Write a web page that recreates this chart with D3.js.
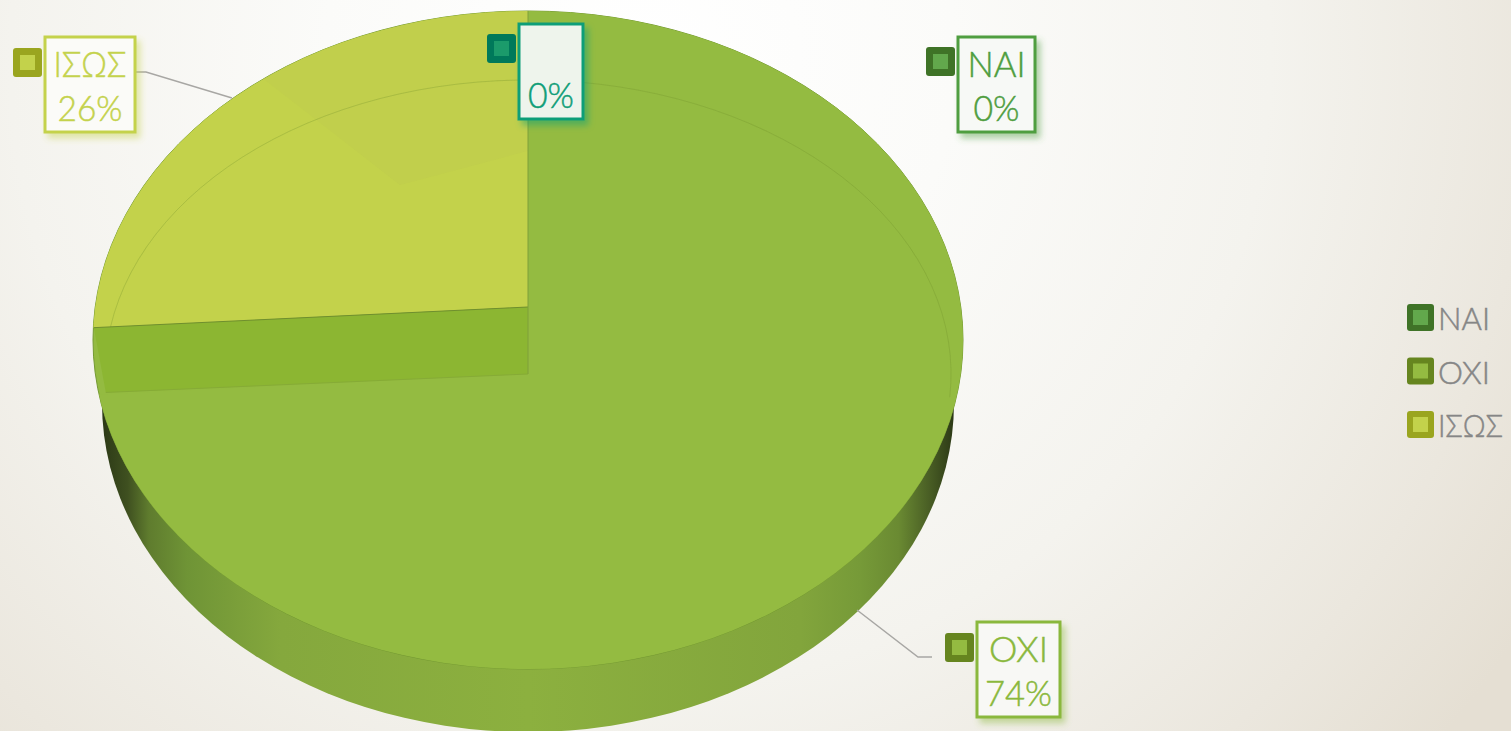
<!DOCTYPE html>
<html>
<head>
<meta charset="utf-8">
<script src="https://cdn.jsdelivr.net/npm/d3@7"></script>
<style>
  html, body { margin: 0; padding: 0; overflow: hidden; }
  svg { display: block; }
  text { font-family: Lato, "Open Sans", sans-serif; font-weight: 300; }
</style>
</head>
<body>
<div id="chart"></div>
<script>
'use strict';

var categories = ['NAI', 'OXI', 'ΙΣΩΣ', ''];
var values = [0, 74, 26, 0];
var legendCategories = ['NAI', 'OXI', 'ΙΣΩΣ'];

var faceColors = ['#62a84c', '#94bb41', '#c3d24b', '#1b9b6b'];
var keyColors = ['#3f7327', '#66851f', '#9aa51f', '#00795a'];
var labelColors = ['#4f9e3f', '#8ab83c', '#c4d24c', '#0f9e78'];
var boxFills = ['#f7f9f6', '#f8f8f5', '#fbfbf8', '#eef4ec'];

var width = 1511, height = 731;
var cx = 528, rx = 435, ry = 329;
var rimY = 340, wallY = 403, wallRx = 426, upperApexY = 307, lowerApexY = 374;
var innerRx = 423, innerRy = 294;

var svg = d3.select('#chart').append('svg').attr('width', width).attr('height', height);
var defs = svg.append('defs');

var bg = defs.append('radialGradient').attr('id', 'bg')
  .attr('gradientUnits', 'userSpaceOnUse')
  .attr('cx', 640).attr('cy', 60).attr('r', 1050);
[[0, '#ffffff'], [0.3, '#fbfbf9'], [0.6, '#f4f3ee'], [0.85, '#ebe7de'], [1, '#e5dfd3']].forEach(function(s) {
  bg.append('stop').attr('offset', s[0]).attr('stop-color', s[1]);
});

var wallGrad = defs.append('linearGradient').attr('id', 'wall')
  .attr('gradientUnits', 'userSpaceOnUse')
  .attr('x1', 102).attr('x2', 954).attr('y1', 0).attr('y2', 0);
[[0, '#2c3916'], [0.03, '#3f5020'], [0.055, '#5f7c2e'], [0.1, '#6f9436'], [0.21, '#85a83d'], [0.5, '#8cb03f'],
 [0.82, '#82a53c'], [0.89, '#769a38'], [0.935, '#6a8a32'], [0.97, '#4a5f25'], [1, '#2c3916']].forEach(function(s) {
  wallGrad.append('stop').attr('offset', s[0]).attr('stop-color', s[1]);
});

defs.append('clipPath').attr('id', 'rimClip').append('ellipse')
  .attr('cx', cx).attr('cy', rimY).attr('rx', rx).attr('ry', ry);

labelColors.forEach(function(c, i) {
  defs.append('filter').attr('id', 'shadow' + i)
    .attr('x', '-20%').attr('y', '-20%').attr('width', '150%').attr('height', '150%')
    .append('feDropShadow').attr('dx', 4).attr('dy', 5).attr('stdDeviation', 3)
    .attr('flood-color', c).attr('flood-opacity', 0.45);
});

svg.append('rect').attr('width', width).attr('height', height).attr('fill', 'url(#bg)');

// pie body
svg.append('ellipse').attr('cx', cx).attr('cy', wallY).attr('rx', wallRx).attr('ry', ry)
  .attr('fill', 'url(#wall)');
svg.append('ellipse').attr('cx', cx).attr('cy', rimY).attr('rx', rx).attr('ry', ry)
  .attr('fill', faceColors[1]).attr('stroke', '#759a33').attr('stroke-width', 1);

var slices = d3.pie().sort(null)(values);
var arc = d3.arc().innerRadius(0).outerRadius(1);
var project = function(angle, rX, rY, y0) {
  return [cx + rX * Math.sin(angle), y0 - rY * Math.cos(angle)];
};

var faces = svg.append('g').attr('clip-path', 'url(#rimClip)');
var apexY = [lowerApexY, lowerApexY, upperApexY, upperApexY];
faces.selectAll('path.slice').data(slices).enter().append('path')
  .attr('class', 'slice')
  .attr('d', arc)
  .attr('transform', function(d, i) {
    return 'translate(' + cx + ',' + apexY[i] + ') scale(' + rx * 1.3 + ',' + ry * 1.3 + ')';
  })
  .attr('fill', function(d, i) { return faceColors[i]; });

// faint darker patch in the upper part of the ΙΣΩΣ slice
var isos = slices[2];
defs.append('clipPath').attr('id', 'isosClip').append('path')
  .attr('d', arc(isos))
  .attr('transform', 'translate(' + cx + ',' + upperApexY + ') scale(' + rx * 1.3 + ',' + ry * 1.3 + ')');
faces.append('g').attr('clip-path', 'url(#isosClip)').append('path')
  .attr('d', d3.arc().innerRadius(0).outerRadius(400).startAngle(-0.91).endAngle(1.31)())
  .attr('transform', 'translate(400,185)')
  .attr('fill', '#b8c24e').attr('opacity', 0.2);

// inner wall of the cut between the two slices
var cutAngle = isos.startAngle;
var wallPts = [
  [cx, upperApexY],
  project(cutAngle, rx, ry, upperApexY),
  project(cutAngle, innerRx, innerRy, lowerApexY),
  [cx, lowerApexY]
];
svg.append('path').attr('d', d3.line()(wallPts) + 'Z').attr('fill', '#8cb632');
svg.append('path').attr('d', d3.line()(wallPts.slice(0, 2)))
  .attr('fill', 'none').attr('stroke', '#6f8f2e').attr('stroke-width', 1);
svg.append('path').attr('d', d3.line()(wallPts.slice(2)))
  .attr('fill', 'none').attr('stroke', '#86ab36').attr('stroke-width', 1);
svg.append('line').attr('x1', cx).attr('x2', cx).attr('y1', rimY - ry).attr('y2', lowerApexY)
  .attr('stroke', '#7ea03a').attr('stroke-width', 1);

// thin inner rim line
var innerArc = d3.arc().innerRadius(1).outerRadius(1)
  .startAngle(-1.41).endAngle(1.65);
svg.append('path').attr('d', innerArc())
  .attr('transform', 'translate(' + cx + ',' + lowerApexY + ') scale(' + innerRx + ',' + innerRy + ')')
  .attr('fill', 'none').attr('stroke', '#6f8f2e').attr('stroke-opacity', 0.16)
  .attr('stroke-width', 1).attr('vector-effect', 'non-scaling-stroke');

// leader lines
var leaders = [
  [[857, 610], [918, 657], [932, 657]],
  [[135, 72], [146, 72], [232, 98]]
];
svg.selectAll('path.leader').data(leaders).enter().append('path')
  .attr('class', 'leader')
  .attr('d', d3.line())
  .attr('fill', 'none').attr('stroke', '#a8a7a4').attr('stroke-width', 1.5);

// data labels
var labelBoxes = [
  { x: 958, y: 37, w: 77, h: 95, kx: 926, ky: 47, nameW: 58, pctW: 46 },
  { x: 977, y: 622, w: 83, h: 95, kx: 945, ky: 633, nameW: 59, pctW: 67 },
  { x: 45, y: 37, w: 90, h: 95, kx: 13, ky: 48, nameW: 73, pctW: 65 },
  { x: 519, y: 24, w: 64, h: 95, kx: 487, ky: 34, nameW: null, pctW: 46 }
];
var total = d3.sum(values);
var label = svg.selectAll('g.label').data(labelBoxes).enter().append('g').attr('class', 'label');
label.append('rect')
  .attr('x', function(d) { return d.x; }).attr('y', function(d) { return d.y; })
  .attr('width', function(d) { return d.w; }).attr('height', function(d) { return d.h; })
  .attr('fill', function(d, i) { return boxFills[i]; })
  .attr('stroke', function(d, i) { return labelColors[i]; })
  .attr('stroke-width', 3)
  .attr('filter', function(d, i) { return 'url(#shadow' + i + ')'; });
label.append('rect')
  .attr('x', function(d) { return d.kx; }).attr('y', function(d) { return d.ky; })
  .attr('width', 29).attr('height', 29).attr('rx', 3)
  .attr('fill', function(d, i) { return keyColors[i]; });
label.append('rect')
  .attr('x', function(d) { return d.kx + 7; }).attr('y', function(d) { return d.ky + 7; })
  .attr('width', 15).attr('height', 15)
  .attr('fill', function(d, i) { return faceColors[i]; });
label.append('text')
  .attr('x', function(d) { return d.x + d.w / 2; }).attr('y', function(d) { return d.y + 40; })
  .attr('text-anchor', 'middle').attr('font-size', 36)
  .attr('textLength', function(d) { return d.nameW; }).attr('lengthAdjust', 'spacingAndGlyphs')
  .attr('fill', function(d, i) { return labelColors[i]; })
  .attr('stroke', function(d, i) { return labelColors[i]; }).attr('stroke-width', 0.5)
  .text(function(d, i) { return categories[i]; });
label.append('text')
  .attr('x', function(d) { return d.x + d.w / 2; }).attr('y', function(d) { return d.y + 84; })
  .attr('text-anchor', 'middle').attr('font-size', 36)
  .attr('textLength', function(d) { return d.pctW; }).attr('lengthAdjust', 'spacingAndGlyphs')
  .attr('fill', function(d, i) { return labelColors[i]; })
  .attr('stroke', function(d, i) { return labelColors[i]; }).attr('stroke-width', 0.5)
  .text(function(d, i) { return Math.round(values[i] / total * 100) + '%'; });

// legend
var legendWidths = [52, 52, 65];
var legendY = d3.scalePoint().domain(legendCategories).range([304, 411]);
var legend = svg.selectAll('g.legend').data(legendCategories).enter().append('g')
  .attr('class', 'legend')
  .attr('transform', function(d) { return 'translate(1407,' + legendY(d) + ')'; });
legend.append('rect').attr('width', 27).attr('height', 27).attr('rx', 3)
  .attr('fill', function(d, i) { return keyColors[i]; });
legend.append('rect').attr('x', 6).attr('y', 6).attr('width', 15).attr('height', 15)
  .attr('fill', function(d, i) { return faceColors[i]; });
legend.append('text').attr('x', 31).attr('y', 26)
  .attr('font-size', 32).attr('fill', '#868686')
  .attr('stroke', '#868686').attr('stroke-width', 0.5)
  .attr('textLength', function(d, i) { return legendWidths[i]; }).attr('lengthAdjust', 'spacingAndGlyphs')
  .text(function(d) { return d; });
</script>
</body>
</html>
